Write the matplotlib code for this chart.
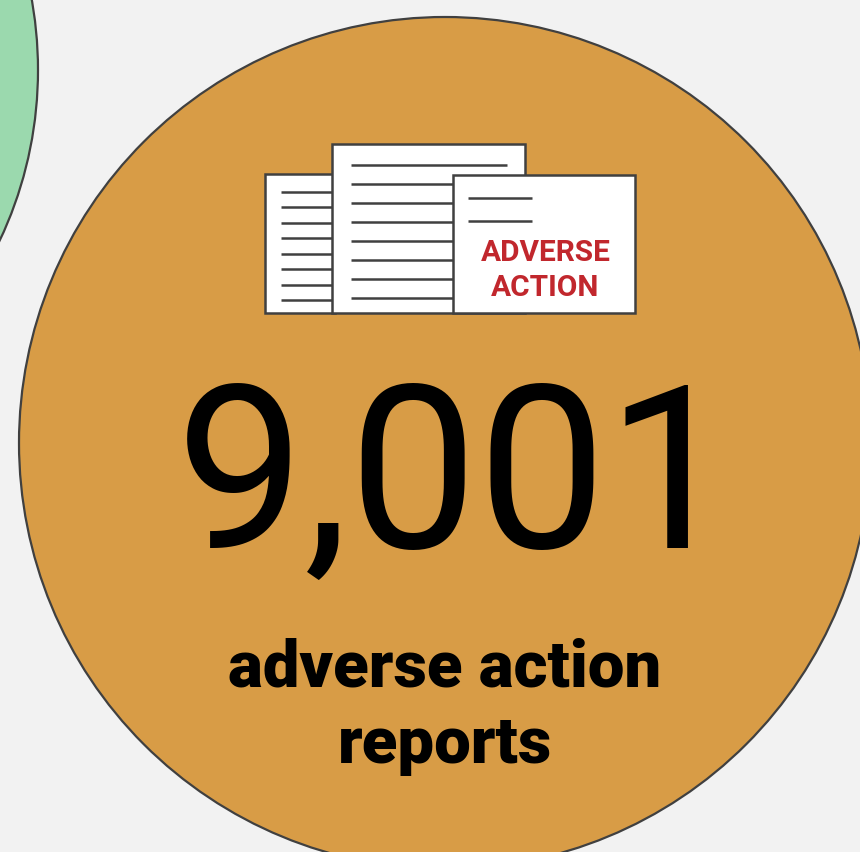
import matplotlib
matplotlib.use("Agg")
from matplotlib import pyplot as plt
from matplotlib.patches import Circle, Rectangle

W, H = 860, 852
BG = '#f2f2f2'
EDGE = '#404040'

count_label = "9,001"
caption_lines = ["adverse action", "reports"]
stamp_lines = ["ADVERSE", "ACTION"]

# page rectangles: x, y, w, h and the rule positions on each
left_page = (265, 174, 70, 139)
left_rules = [192, 207, 223, 238, 254, 269, 285, 300]
mid_page = (332, 144, 193, 169)
mid_rules = [165, 184, 203, 222, 241, 260, 279, 298]
front_page = (453, 175, 181.5, 138)
front_rules = [198, 221]

fig = plt.figure(figsize=(W / 100, H / 100), dpi=100, facecolor=BG)
ax = fig.add_axes([0, 0, 1, 1])
ax.set_xlim(0, W)
ax.set_ylim(H, 0)
ax.axis('off')

ax.add_patch(Circle((-361, 70), 399, facecolor='#9bd9ae', edgecolor=EDGE, lw=1.6))
ax.add_patch(Circle((445, 443), 426, facecolor='#d89c46', edgecolor=EDGE, lw=1.6))


def draw_page(rect, rules, x0, x1, z):
    x, y, w, h = rect
    ax.add_patch(Rectangle((x, y), w, h, facecolor='white', edgecolor=EDGE, lw=1.8, zorder=z))
    for r in rules:
        ax.plot([x0, x1], [r, r], color=EDGE, lw=1.8, solid_capstyle='butt', zorder=z)


draw_page(left_page, left_rules, 281, 332, 3)
draw_page(mid_page, mid_rules, 351, 507, 4)
draw_page(front_page, front_rules, 468, 532, 5)

for line, y in zip(stamp_lines, [250, 285]):
    ax.text(545.5, y, line, ha='center', va='center_baseline', color='#c1272d',
            fontsize=21.5, fontweight='bold', family='Roboto', zorder=6)

ax.text(456, 462, count_label, ha='center', va='center_baseline', color='black',
        fontsize=165, family='Roboto')
for line, y in zip(caption_lines, [662, 738]):
    ax.text(445, y, line, ha='center', va='center_baseline', color='black',
            fontsize=47, fontweight='black', family='Roboto')

fig.savefig('out.png', dpi=100, facecolor=BG)
